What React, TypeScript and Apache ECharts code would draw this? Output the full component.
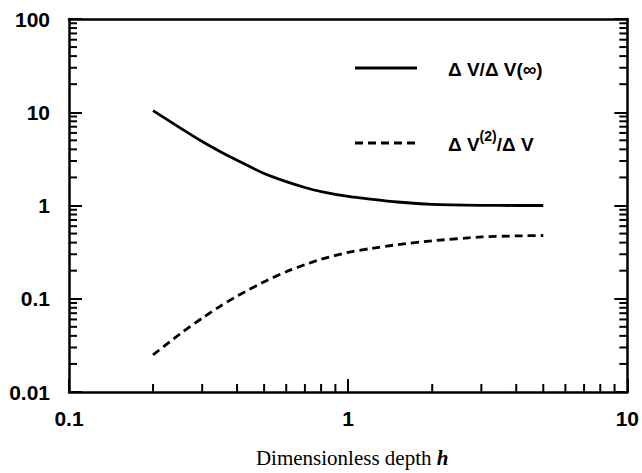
import React, { useEffect, useRef } from "react";
import * as echarts from "echarts";

// Dimensionless depth h
const depthH = [0.2, 0.25, 0.3, 0.35, 0.4, 0.5, 0.6, 0.7, 0.8, 1.0, 1.2, 1.5, 2, 3, 4, 5];
// ΔV/ΔV(∞)
const ratioInf = [10.4, 6.8, 4.85, 3.75, 3.05, 2.2, 1.8, 1.56, 1.41, 1.25, 1.17, 1.09, 1.03, 1.005, 1.0, 1.0];
// ΔV(2)/ΔV
const ratioSecond = [0.025, 0.042, 0.062, 0.084, 0.107, 0.152, 0.195, 0.232, 0.265, 0.315, 0.345, 0.38, 0.418, 0.46, 0.472, 0.477];

const xTickLabels = ["0.1", "1", "10"];
const yTickLabels = ["0.01", "0.1", "1", "10", "100"];
const X_MIN = 0.1;
const X_MAX = 10;
const Y_MIN = 0.01;
const Y_MAX = 100;

const minorMultipliers = [2, 3, 4, 5, 6, 7, 8, 9];
const xDecades = [0.1, 1];
const yDecades = [0.01, 0.1, 1, 10];
const xMinor = xDecades.flatMap((d) => minorMultipliers.map((m) => +(d * m).toPrecision(3)));
const yMinor = yDecades.flatMap((d) => minorMultipliers.map((m) => +(d * m).toPrecision(3)));

const SANS = "Liberation Sans, Arial, sans-serif";
const SERIF = "Liberation Serif, Times New Roman, serif";

export default function App() {
  const ref = useRef<HTMLDivElement>(null);
  useEffect(() => {
    if (!ref.current) return;
    const chart = echarts.init(ref.current, undefined, { renderer: "svg" });
    const labelFont = {
      fontFamily: SANS,
      fontSize: 21,
      fontWeight: "bold" as const,
      color: "#000",
    };
    const axisLine = { show: true, lineStyle: { color: "#000", width: 2.5 } };
    chart.setOption({
      animation: false,
      backgroundColor: "#fff",
      grid: { left: 69, right: 11, top: 19, bottom: 79 },
      xAxis: [
        {
          type: "log",
          logBase: 10,
          min: X_MIN,
          max: X_MAX,
          position: "bottom",
          axisLine,
          axisTick: { show: true, inside: true, length: 13, lineStyle: { color: "#000", width: 2 } },
          splitLine: { show: false },
          axisLabel: {
            ...labelFont,
            margin: 16,
            formatter: (v: number) => xTickLabels[Math.round(Math.log10(v)) + 1] ?? "",
          },
          name: "{n|Dimensionless depth }{h|h}",
          nameLocation: "middle",
          nameGap: 55,
          nameTextStyle: {
            padding: [0, 0, 0, 8],
            rich: {
              n: { fontFamily: SERIF, fontSize: 21, color: "#000" },
              h: { fontFamily: SERIF, fontSize: 21, fontStyle: "italic", fontWeight: "bold", color: "#000" },
            },
          },
        },
        {
          type: "log",
          logBase: 10,
          min: X_MIN,
          max: X_MAX,
          position: "top",
          axisLine,
          axisTick: { show: false },
          axisLabel: { show: false },
          splitLine: { show: false },
        },
      ],
      yAxis: [
        {
          type: "log",
          logBase: 10,
          min: Y_MIN,
          max: Y_MAX,
          position: "left",
          axisLine,
          axisTick: { show: true, inside: true, length: 13, lineStyle: { color: "#000", width: 2 } },
          splitLine: { show: false },
          axisLabel: {
            ...labelFont,
            margin: 19,
            formatter: (v: number) => yTickLabels[Math.round(Math.log10(v)) + 2] ?? "",
          },
        },
        {
          type: "log",
          logBase: 10,
          min: Y_MIN,
          max: Y_MAX,
          position: "right",
          axisLine,
          axisTick: { show: true, inside: true, length: 13, lineStyle: { color: "#000", width: 2 } },
          splitLine: { show: false },
          axisLabel: { show: false },
        },
      ],
      series: [
        {
          type: "line",
          data: depthH.map((h, i) => [h, ratioInf[i]]),
          showSymbol: false,
          smooth: 0.2,
          lineStyle: { color: "#000", width: 2.8, type: "solid" },
        },
        {
          type: "line",
          data: depthH.map((h, i) => [h, ratioSecond[i]]),
          showSymbol: false,
          smooth: 0.2,
          lineStyle: { color: "#000", width: 2.8, type: [8, 5] },
        },
        {
          type: "custom",
          clip: false,
          silent: true,
          data: xMinor.map((v) => [v, Y_MIN]),
          renderItem: (_params: any, api: any) => {
            const p = api.coord([api.value(0), Y_MIN]);
            return {
              type: "line",
              shape: { x1: p[0], y1: p[1], x2: p[0], y2: p[1] - 8 },
              style: { stroke: "#000", lineWidth: 2 },
            };
          },
        },
        {
          type: "custom",
          clip: false,
          silent: true,
          data: yMinor.map((v) => [X_MIN, v]),
          renderItem: (_params: any, api: any) => {
            const l = api.coord([X_MIN, api.value(1)]);
            const r = api.coord([X_MAX, api.value(1)]);
            return {
              type: "group",
              children: [
                {
                  type: "line",
                  shape: { x1: l[0], y1: l[1], x2: l[0] + 8, y2: l[1] },
                  style: { stroke: "#000", lineWidth: 2 },
                },
                {
                  type: "line",
                  shape: { x1: r[0], y1: r[1], x2: r[0] - 8, y2: r[1] },
                  style: { stroke: "#000", lineWidth: 2 },
                },
              ],
            };
          },
        },
      ],
      graphic: [
        {
          type: "line",
          shape: { x1: 355, y1: 68, x2: 417, y2: 68 },
          style: { stroke: "#000", lineWidth: 2.8 },
        },
        {
          type: "text",
          x: 448,
          y: 69,
          style: {
            text: "Δ V/Δ V(∞)",
            fontFamily: SANS,
            fontSize: 19,
            fontWeight: "bold",
            fill: "#000",
            verticalAlign: "middle",
          },
        },
        {
          type: "line",
          shape: { x1: 355, y1: 143, x2: 417, y2: 143 },
          style: { stroke: "#000", lineWidth: 2.8, lineDash: [8, 5] },
        },
        {
          type: "text",
          x: 448,
          y: 141,
          style: {
            text: "{a|Δ V}{s|(2)}{a|/Δ V}",
            verticalAlign: "middle",
            rich: {
              a: {
                fontFamily: SANS,
                fontSize: 19,
                fontWeight: "bold",
                fill: "#000",
                lineHeight: 25,
                verticalAlign: "bottom",
              },
              s: {
                fontFamily: SANS,
                fontSize: 14,
                fontWeight: "bold",
                fill: "#000",
                lineHeight: 14,
                verticalAlign: "top",
              },
            },
          },
        },
      ],
    });
    return () => chart.dispose();
  }, []);
  return (
    <div
      ref={ref}
      style={{ position: "fixed", left: 0, top: 0, width: 642, height: 473, background: "#fff" }}
    />
  );
}
